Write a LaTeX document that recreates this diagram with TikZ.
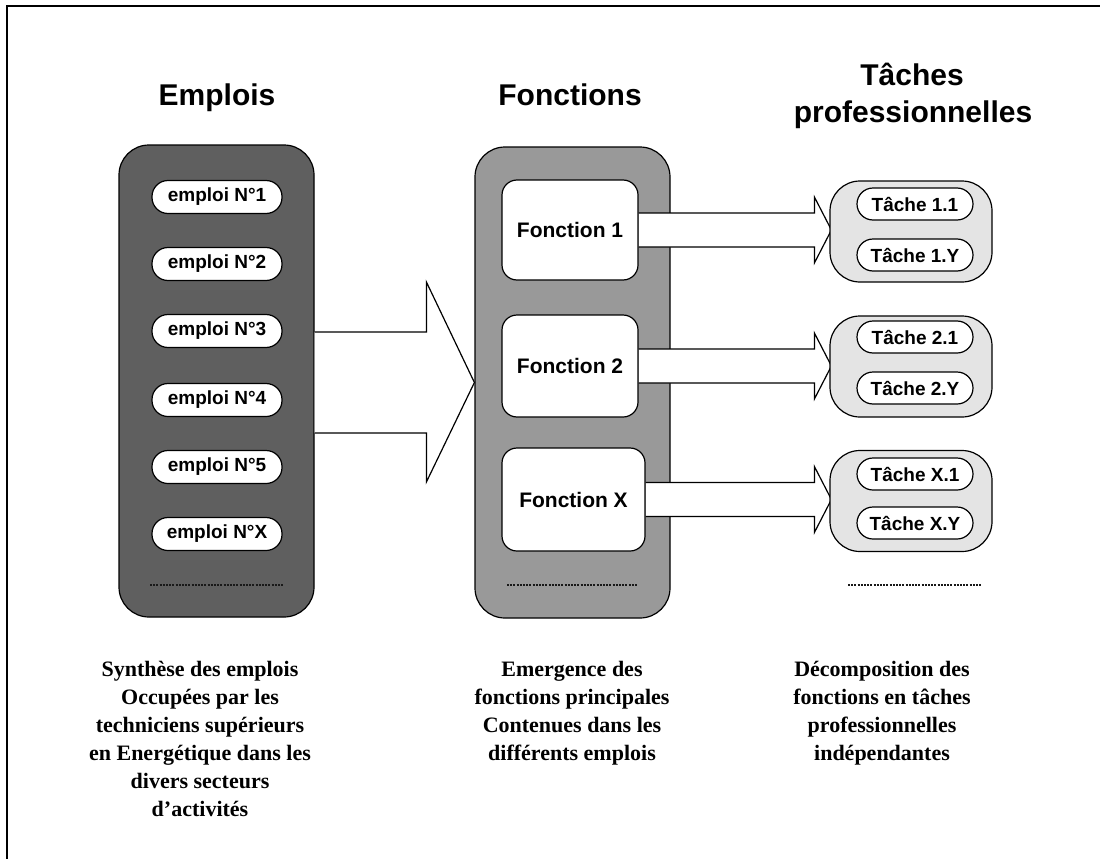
\documentclass[tikz,border=0pt]{standalone}
\usepackage{fontspec}
\setmainfont{Liberation Serif}
\newfontfamily\arial{Liberation Sans}
\usetikzlibrary{calc}
\definecolor{darkbox}{RGB}{95,95,95}
\definecolor{midbox}{RGB}{153,153,153}
\definecolor{lightbox}{RGB}{228,228,228}
\pgfdeclarelayer{bg}
\pgfdeclarelayer{mid}
\pgfsetlayers{bg,mid,main}
\tikzset{
  bigbox/.style={draw, line width=1.2pt, rounded corners=30pt, inner sep=0pt},
  epill/.style={draw, line width=1.2pt, fill=white, rounded corners=16pt, minimum width=130pt, minimum height=33pt, inner sep=0pt, font=\arial\bfseries\fontsize{19}{19}\selectfont},
  tpill/.style={draw, line width=1.2pt, fill=white, rounded corners=16pt, minimum width=116pt, minimum height=32pt, inner sep=0pt, font=\arial\bfseries\fontsize{19}{19}\selectfont},
  fbox/.style={draw, line width=1.2pt, fill=white, rounded corners=15pt, inner sep=0pt, font=\arial\bfseries\fontsize{21}{21}\selectfont},
  tbox/.style={draw, line width=1.2pt, fill=lightbox, rounded corners=30pt, minimum width=162pt, minimum height=101pt, inner sep=0pt},
  title/.style={font=\arial\bfseries\fontsize{30}{30}\selectfont, inner sep=0pt, anchor=base},
  caption/.style={font=\bfseries\fontsize{22}{28}\selectfont, align=center, inner sep=0pt, anchor=north},
  dotline/.style={line width=2.6pt, dash pattern=on 2pt off 1.2pt, black!90},
  fatarrow/.style={draw, line width=1.2pt, fill=white, line join=miter},
}
\begin{document}
\begin{tikzpicture}[x=1pt,y=-1pt]
\useasboundingbox (0,0) rectangle (1100,859);
% outer frame (only top and left visible)
\draw[line width=2pt] (7,859) -- (7,6) -- (1100,6);

% titles
\node[title] (tEmp) at (217,105) {Emplois};
\node[title] (tFon) at (570,105) {Fonctions};
\node[title] (tTa1) at (912,85) {Tâches};
\node[title] (tTa2) at (913,122) {professionnelles};

% big background boxes
\begin{pgfonlayer}{bg}
\node[bigbox, fill=darkbox, minimum width=195pt, minimum height=472pt] (emp) at (216.5,381) {};
\node[bigbox, fill=midbox, minimum width=195pt, minimum height=471pt] (fon) at (572.5,382.5) {};
\end{pgfonlayer}

% emploi pills
\node[epill] (e1) at (217,197) {emploi N°1};
\node[epill] (e2) at (217,264) {emploi N°2};
\node[epill] (e3) at (217,331) {emploi N°3};
\node[epill] (e4) at (217,400) {emploi N°4};
\node[epill] (e5) at (217,467) {emploi N°5};
\node[epill] (eX) at (217,534) {emploi N°X};
\draw[dotline] (150,585) -- (283,585);

% fonction boxes
\node[fbox, minimum width=136pt, minimum height=100pt] (f1) at (570,230) {Fonction 1};
\node[fbox, minimum width=136pt, minimum height=102pt] (f2) at (570,366) {Fonction 2};
\node[fbox, minimum width=143pt, minimum height=103pt] (fX) at (573.5,499.5) {Fonction X};
\draw[dotline] (507,585) -- (637,585);

% task boxes
\node[tbox] (tb1) at (911,231.5) {};
\node[tbox] (tb2) at (911,366.5) {};
\node[tbox] (tbX) at (911,501) {};
\node[tpill] (t11) at (915,204) {Tâche 1.1};
\node[tpill] (t1Y) at (915,255) {Tâche 1.Y};
\node[tpill] (t21) at (915,337) {Tâche 2.1};
\node[tpill] (t2Y) at (915,388) {Tâche 2.Y};
\node[tpill] (tX1) at (915,474) {Tâche X.1};
\node[tpill] (tXY) at (915,523) {Tâche X.Y};
\draw[dotline] (848,585) -- (982,585);

% arrows
\begin{pgfonlayer}{mid}
\filldraw[fatarrow]
  ($(emp.east)+(0,-49)$) -- ($(fon.west)+(-48,-50.5)$) -- ($(fon.west)+(-48,-100.5)$)
  -- (fon.west)
  -- ($(fon.west)+(-48,99.5)$) -- ($(fon.west)+(-48,50.5)$) -- ($(emp.east)+(0,52)$);
\foreach \f/\t in {f1/tb1,f2/tb2,fX/tbX}{
  \coordinate (tip) at ($(\t.west |- \f.east)+(2,0)$);
  \filldraw[fatarrow]
    ($(\f.east)+(0,-17)$) -- ($(tip)+(-17,-17)$) -- ($(tip)+(-17,-33)$)
    -- (tip)
    -- ($(tip)+(-17,33)$) -- ($(tip)+(-17,17)$) -- ($(\f.east)+(0,17)$);
}
\end{pgfonlayer}

% captions
\node[caption] (c1) at (200,661) {Synthèse des emplois\\Occupées par les\\techniciens supérieurs\\en Energétique dans les\\divers secteurs\\d’activités};
\node[caption] (c2) at (572,661) {Emergence des\\fonctions principales\\Contenues dans les\\différents emplois};
\node[caption] (c3) at (882,661) {Décomposition des\\fonctions en tâches\\professionnelles\\indépendantes};
\end{tikzpicture}
\end{document}
